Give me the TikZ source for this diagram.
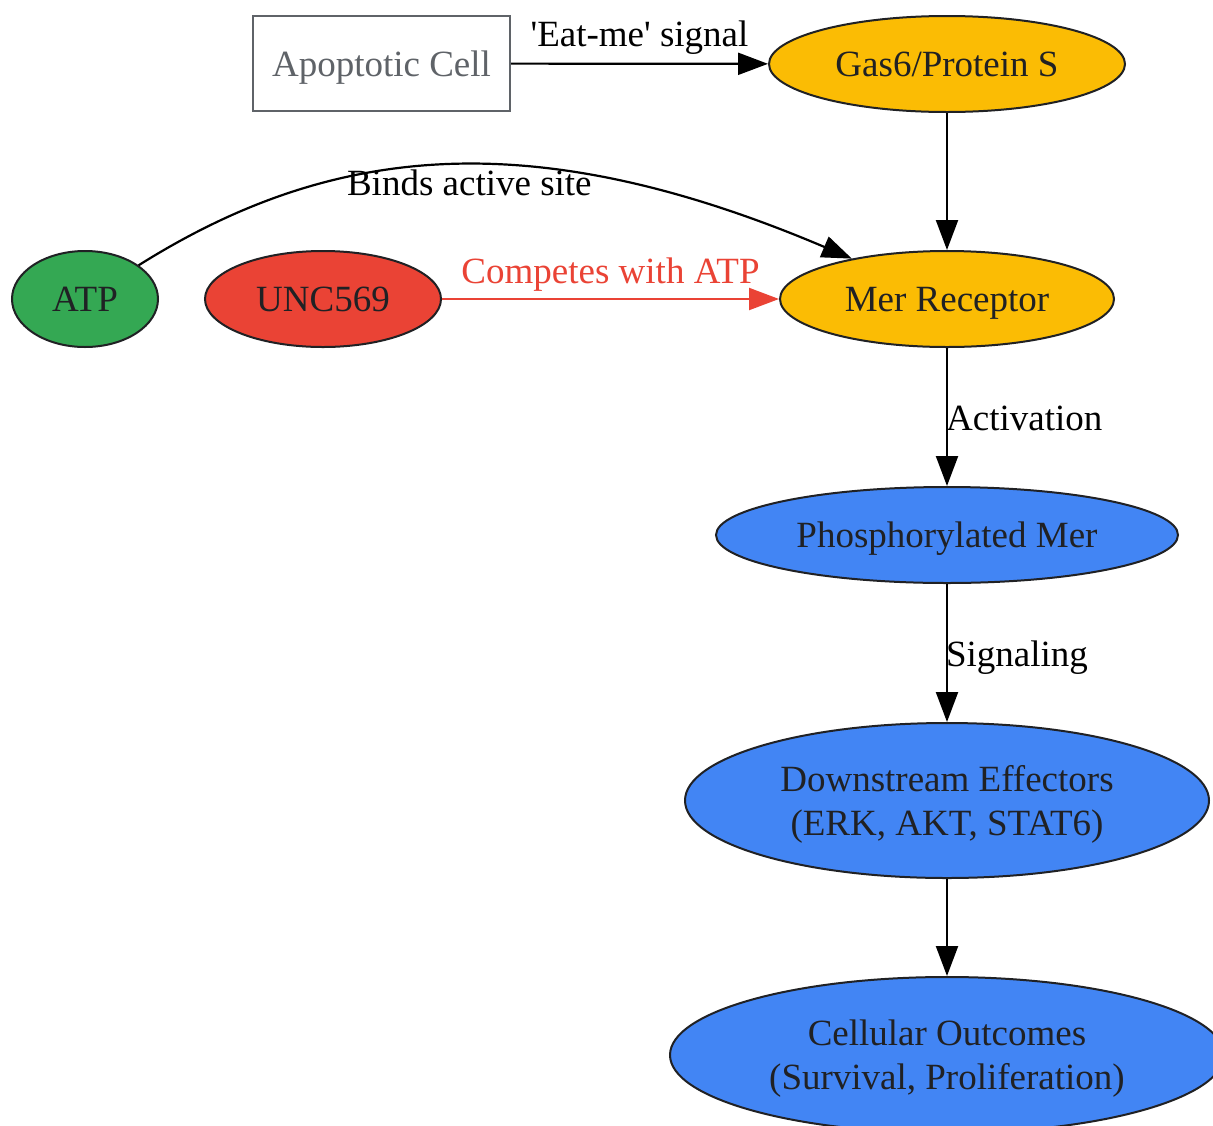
\documentclass[tikz,border=0pt]{standalone}
\usepackage{fontspec}
\setmainfont{Liberation Serif}
\usetikzlibrary{shapes.geometric,arrows.meta}
\definecolor{gyellow}{HTML}{FBBC04}
\definecolor{ggreen}{HTML}{34A853}
\definecolor{gred}{HTML}{EA4335}
\definecolor{gblue}{HTML}{4285F4}
\definecolor{gtext}{HTML}{202124}
\definecolor{ggray}{HTML}{5F6368}
\tikzset{
  base/.style={draw=gtext, line width=2pt, text=gtext, inner sep=0pt, align=center,
    text depth=0pt, font=\fontsize{37}{44}\selectfont},
  oval/.style={base, ellipse},
  boxnode/.style={base, rectangle, draw=ggray, text=ggray, fill=white},
  conn/.style={line width=2.2pt, -{Triangle[length=30pt,width=22pt]}},
  lbl/.style={font=\fontsize{37}{44}\selectfont, inner sep=0pt, text=black}
}
\begin{document}
\begin{tikzpicture}[x=1pt,y=-1pt]
\clip (0,0) rectangle (1213,1125);
\fill[white] (0,0) rectangle (1213,1125);
\node[boxnode, minimum width=257pt, minimum height=95pt] (apo) at (381.5,63.5) {Apoptotic Cell};
\node[oval, fill=gyellow, minimum width=356pt, minimum height=96pt] (gas) at (947,64) {Gas6/Protein S};
\node[oval, fill=ggreen, minimum width=146pt, minimum height=96pt] (atp) at (85,299) {ATP};
\node[oval, fill=gred, minimum width=236pt, minimum height=96pt] (unc) at (323,299) {UNC569};
\node[oval, fill=gyellow, minimum width=334pt, minimum height=96pt] (mer) at (947,299) {Mer Receptor};
\node[oval, fill=gblue, minimum width=462pt, minimum height=96pt] (pmer) at (947,535) {Phosphorylated Mer};
\node[oval, fill=gblue, minimum width=524pt, minimum height=155pt] (down) at (947,800.5) {Downstream Effectors\\(ERK, AKT, STAT6)};
\node[oval, fill=gblue, minimum width=554pt, minimum height=156pt] (cell) at (947,1055) {Cellular Outcomes\\(Survival, Proliferation)};

\draw[conn] (apo) -- node[lbl, midway, anchor=base, yshift=17pt] {\textquotesingle Eat-me\textquotesingle{} signal} (gas);
\draw[conn] (gas) -- (mer);
\draw[conn] (atp) .. controls (330,145) and (530,122) .. node[lbl, pos=0.5, anchor=base, yshift=-30pt, xshift=23pt] {Binds active site} (mer);
\draw[conn, draw=gred, fill=gred] (unc) -- node[lbl, text=gred, midway, anchor=base, yshift=16pt] {Competes with ATP} (mer);
\draw[conn] (mer) -- node[lbl, midway, anchor=base west, yshift=-13pt, xshift=-2pt] {Activation} (pmer);
\draw[conn] (pmer) -- node[lbl, midway, anchor=base west, yshift=-13pt, xshift=-2pt] {Signaling} (down);
\draw[conn] (down) -- (cell);
\end{tikzpicture}
\end{document}
